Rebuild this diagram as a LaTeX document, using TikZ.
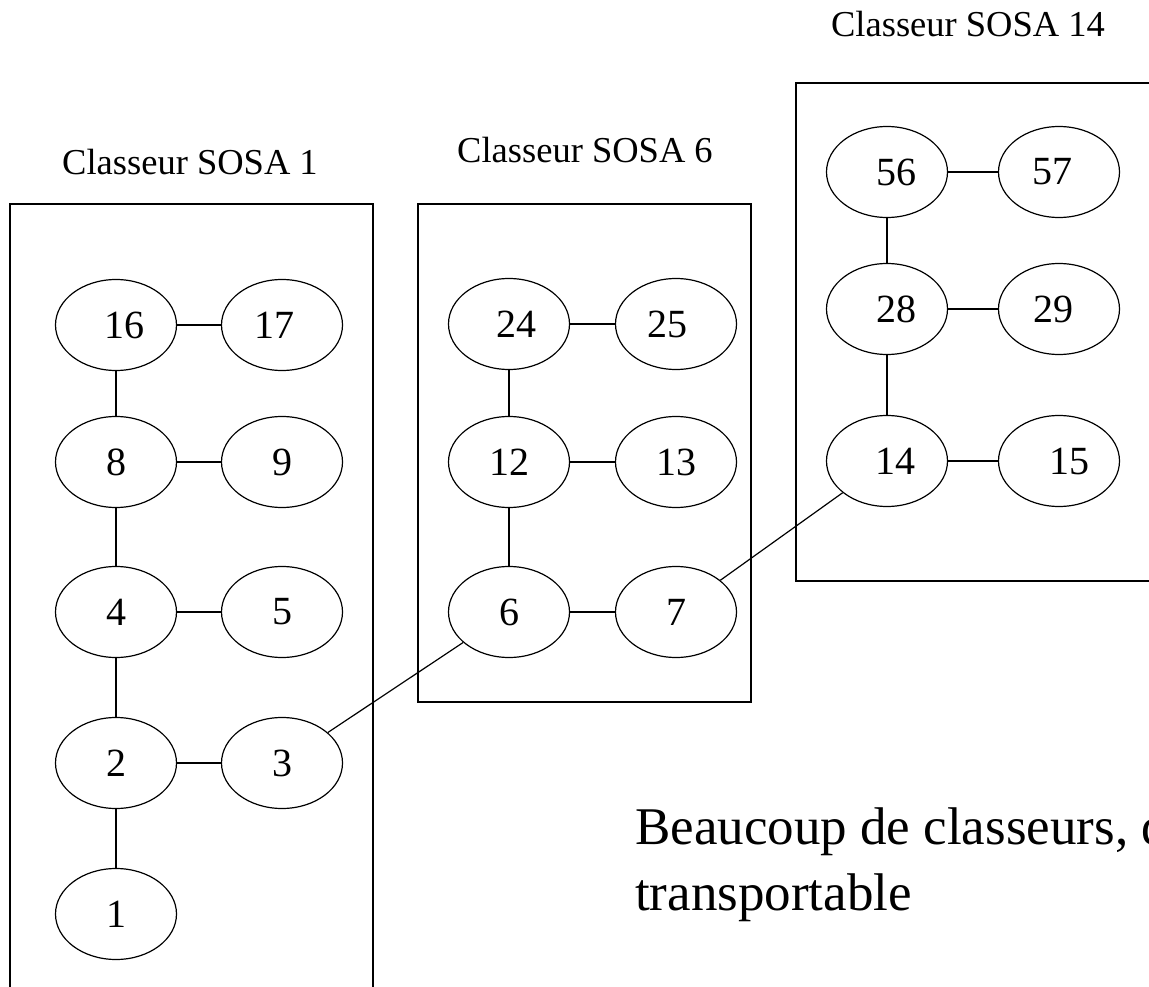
\documentclass[tikz,border=0pt]{standalone}
\usepackage{fontspec}
\setmainfont{Liberation Serif}
\usetikzlibrary{shapes.geometric}

% move a label sideways inside its oval: positive = right, negative = left
\newcommand{\rightby}[2]{\kern#1#2}
\newcommand{\leftby}[2]{#2\kern#1}

\tikzset{
  person/.style={draw, ellipse, line width=1.2pt, minimum width=121pt, minimum height=91pt,
                 inner sep=0pt, font=\fontsize{40}{44}\selectfont},
  link/.style={line width=1.2pt},
  binder/.style={line width=1.4pt},
  binderlabel/.style={font=\fontsize{36.5}{40}\selectfont, anchor=base},
  remark/.style={anchor=base west, font=\fontsize{53}{66}\selectfont, inner sep=0pt}
}

\begin{document}
\begin{tikzpicture}[x=1pt, y=-1pt]
\useasboundingbox (0,0) rectangle (1149,987);
\clip (0,0) rectangle (1149,987);

% binder frames
\draw[binder] (10,1000) -- (10,204) -- (373,204) -- (373,1000);
\draw[binder] (418,204) rectangle (751,702);
\draw[binder] (1160,83) -- (796,83) -- (796,581) -- (1160,581);

% binder titles
\node[binderlabel] (t1) at (190,175) {Classeur SOSA 1};
\node[binderlabel] (t6) at (585,163) {Classeur SOSA 6};
\node[binderlabel] (t14) at (968,37) {Classeur SOSA 14};

% binder SOSA 1
\node[person] (n16) at (116,325) {\rightby{16pt}{16}};
\node[person] (n17) at (282,325) {\leftby{16pt}{17}};
\node[person] (n8)  at (116,462) {8};
\node[person] (n9)  at (282,462) {9};
\node[person] (n4)  at (116,612) {4};
\node[person] (n5)  at (282,612) {5};
\node[person] (n2)  at (116,763) {2};
\node[person] (n3)  at (282,763) {3};
\node[person] (n1)  at (116,914) {1};

% binder SOSA 6
\node[person] (n24) at (509,324) {\rightby{15pt}{\raisebox{-3pt}{24}}};
\node[person] (n25) at (676,324) {\leftby{17pt}{25}};
\node[person] (n12) at (509,462) {12};
\node[person] (n13) at (676,462) {13};
\node[person] (n6)  at (509,612) {6};
\node[person] (n7)  at (676,612) {7};

% binder SOSA 14
\node[person] (n56) at (887,172) {\rightby{18pt}{56}};
\node[person] (n57) at (1059,172) {\leftby{14pt}{57}};
\node[person] (n28) at (887,309) {\rightby{18pt}{28}};
\node[person] (n29) at (1059,309) {\leftby{12pt}{29}};
\node[person] (n14) at (887,461) {\rightby{16pt}{14}};
\node[person] (n15) at (1059,461) {\rightby{20pt}{15}};

% couples and father lines
\draw[link] (n16) -- (n17);
\draw[link] (n8) -- (n9);
\draw[link] (n4) -- (n5);
\draw[link] (n2) -- (n3);
\draw[link] (n16) -- (n8);
\draw[link] (n8) -- (n4);
\draw[link] (n4) -- (n2);
\draw[link] (n2) -- (n1);

\draw[link] (n24) -- (n25);
\draw[link] (n12) -- (n13);
\draw[link] (n6) -- (n7);
\draw[link] (n24) -- (n12);
\draw[link] (n12) -- (n6);

\draw[link] (n56) -- (n57);
\draw[link] (n28) -- (n29);
\draw[link] (n14) -- (n15);
\draw[link] (n56) -- (n28);
\draw[link] (n28) -- (n14);

% links between binders
\draw[link] (n3) -- (n6);
\draw[link] (n7) -- (n14);

% remark
\node[remark] (note1) at (635,844) {Beaucoup de classeurs, d};
\node[remark] (note2) at (635,910) {transportable};
\end{tikzpicture}
\end{document}
